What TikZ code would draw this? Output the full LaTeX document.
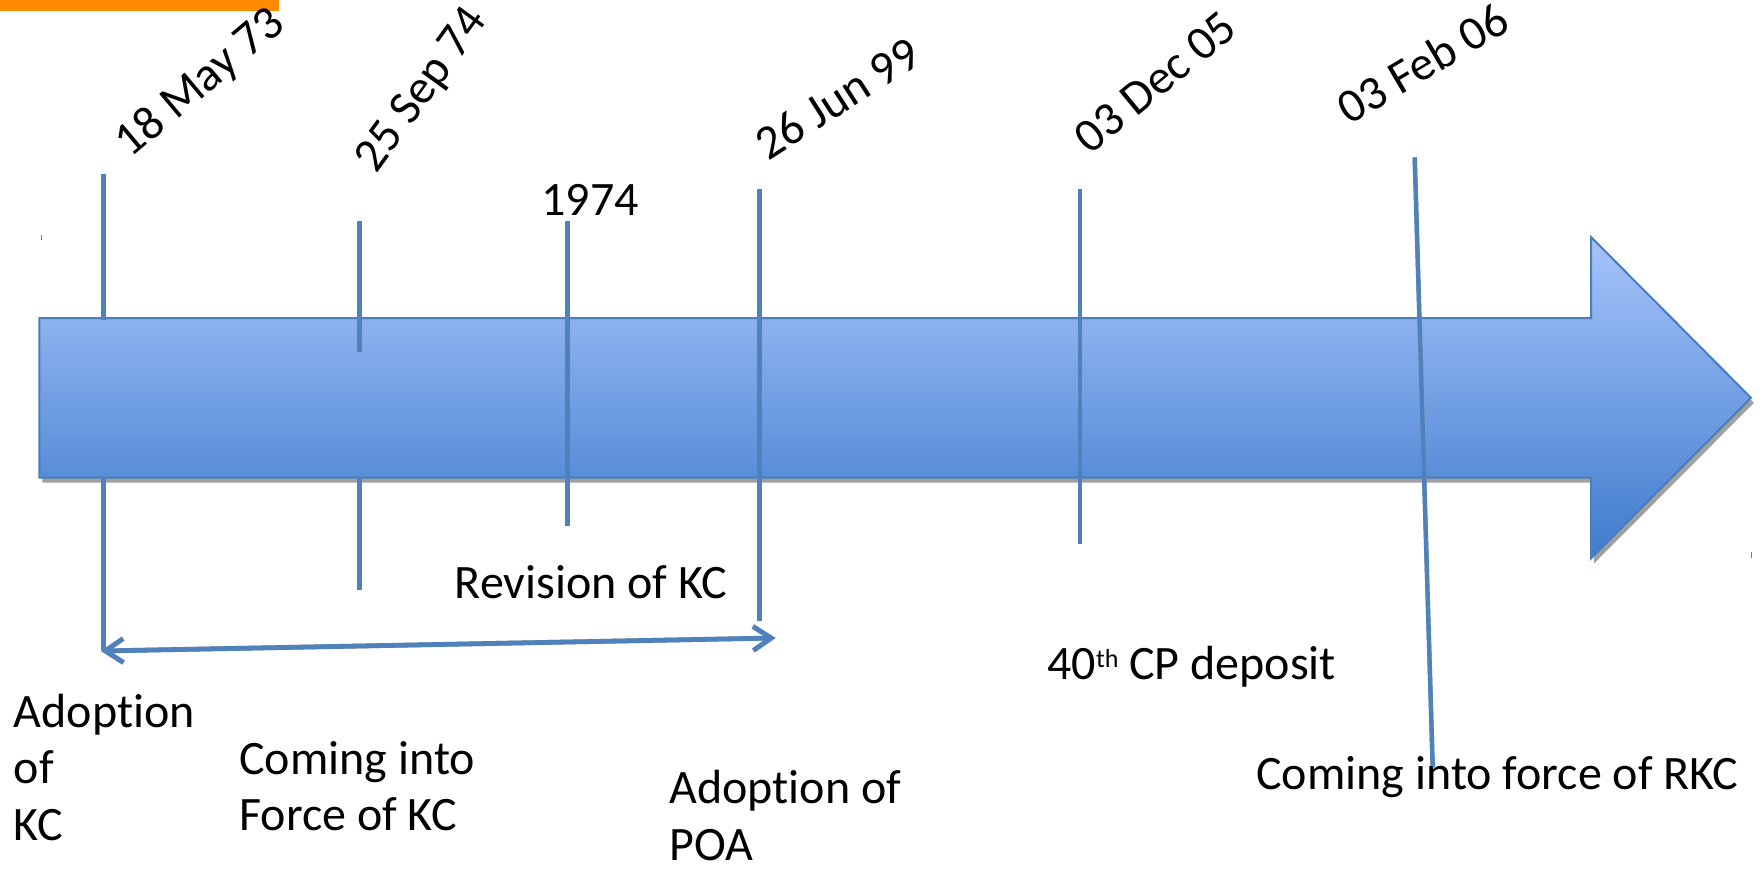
\documentclass[tikz,border=0pt]{standalone}
\usepackage{fontspec}
\setmainfont{Carlito}[Ligatures={NoCommon,NoContextual}]
\usetikzlibrary{arrows.meta}
\definecolor{tickblue}{HTML}{4F81BD}
\definecolor{arrowedge}{HTML}{4A7EBB}
\definecolor{arrowtop}{HTML}{A6C4FB}
\definecolor{arrowbot}{HTML}{3F7BCC}
\definecolor{shadowgray}{HTML}{A0A0A0}
\definecolor{barorange}{HTML}{FF8C00}
\begin{document}
\begin{tikzpicture}[x=0.5pt,y=-0.5pt,
  lbl/.style={inner sep=0pt, font=\fontsize{24pt}{28.4pt}\selectfont, text=black, anchor=base west},
  tickline/.style={draw=tickblue, line width=2.2pt},
  tickshadow/.style={draw=shadowgray, line width=2.2pt},
  barb/.tip={Straight Barb[length=9pt,width=12pt]},
  spanarrow/.style={line width=2.4pt, barb-barb},
]
\useasboundingbox (0,0) rectangle (1762,872);
% orange bar
\fill[barorange] (0,0) rectangle (279,11);
% big arrow shadow and body
\fill[shadowgray, shift={(3,5)}] (39.3,318) -- (1591,318) -- (1591,237) -- (1751,397.8) -- (1591,558.5) -- (1591,477.6) -- (39.3,477.6) -- cycle;
\path[draw=arrowedge, line width=1pt, top color=arrowtop, bottom color=arrowbot]
  (39.3,318) -- (1591,318) -- (1591,237) -- (1751,397.8) -- (1591,558.5) -- (1591,477.6) -- (39.3,477.6) -- cycle;
% tiny corner marks
\draw[tickblue, line width=0.4pt] (41.5,235) -- (41.5,240);
\draw[tickblue, line width=0.4pt] (1751,552) -- (1751,558);
% tick coordinates
\coordinate (t1a) at (103.4,174);  \coordinate (t1b) at (103.4,320);
\coordinate (t1c) at (103.4,477.6);\coordinate (t1d) at (103.4,650);
\coordinate (t2a) at (359.6,221);  \coordinate (t2b) at (359.6,352);
\coordinate (t2c) at (359.6,477.6);\coordinate (t2d) at (359.6,590);
\coordinate (t3a) at (567.5,221);  \coordinate (t3b) at (567.5,526);
\coordinate (t4a) at (759.6,189);  \coordinate (t4b) at (759.6,621);
\coordinate (t5a) at (1080,189);   \coordinate (t5b) at (1080,544);
\coordinate (t6a) at (1414.7,157.3); \coordinate (t6b) at (1432.7,767.5);
% tick shadows
\foreach \p/\q in {t1a/t1b,t1c/t1d,t2a/t2b,t2c/t2d,t3a/t3b,t4a/t4b,t5a/t5b,t6a/t6b}
  \draw[tickshadow, shift={(0.5,2.5)}] (\p) -- (\q);
% ticks
\foreach \p/\q in {t1a/t1b,t1c/t1d,t2a/t2b,t2c/t2d,t3a/t3b,t4a/t4b,t5a/t5b,t6a/t6b}
  \draw[tickline] (\p) -- (\q);
% span arrow
\coordinate (sL) at (101,651);
\coordinate (sR) at (775.5,638);
\draw[spanarrow, draw=shadowgray, shift={(1.5,4)}] (sL) -- (sR);
\draw[spanarrow, draw=tickblue] (sL) -- (sR);
% date labels
\node[lbl, rotate=40] (d1) at (130.6,159) {18 May 73};
\node[lbl, rotate=54] (d2) at (376,175) {25 Sep 74};
\node[lbl] (d3) at (541,215) {1974};
\node[lbl, rotate=32.7] (d4) at (768,162) {26 Jun 99};
\node[lbl, rotate=39.5] (d5) at (1090.5,155.7) {03 Dec 05};
\node[lbl, rotate=30.6] (d6) at (1349,125.6) {03 Feb 06};
% event labels
\node[lbl] (e1) at (13.5,727) {\begin{tabular}[t]{@{}l@{}}Adoption\\of\\KC\end{tabular}};
\node[lbl] (e2) at (239,774) {\begin{tabular}[t]{@{}l@{}}Coming into\\Force of KC\end{tabular}};
\node[lbl] (e3) at (454.5,598) {Revision of KC};
\node[lbl] (e4) at (669,803.5) {\begin{tabular}[t]{@{}l@{}}Adoption of\\POA\end{tabular}};
\node[lbl] (e5) at (1047,679) {40\raisebox{6pt}{\fontsize{13pt}{13pt}\selectfont th} CP deposit};
\node[lbl] (e6) at (1256,789) {Coming into force of RKC};
\end{tikzpicture}
\end{document}
